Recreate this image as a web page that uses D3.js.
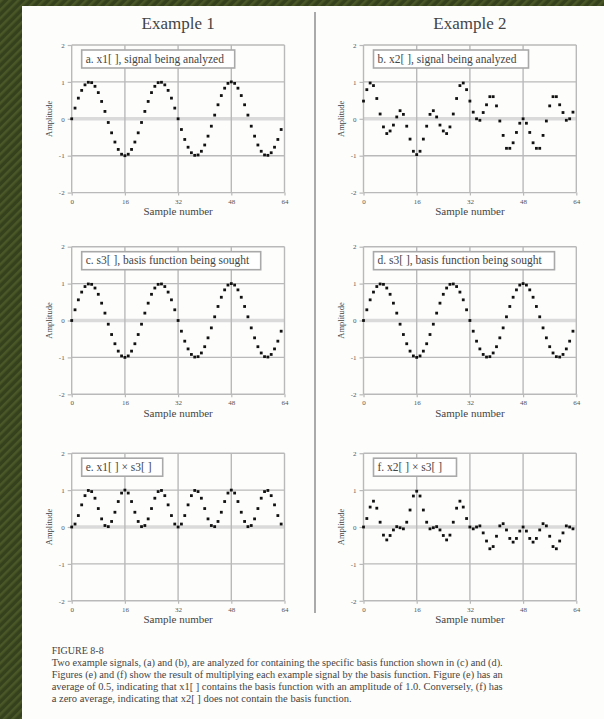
<!DOCTYPE html>
<html>
<head>
<meta charset="utf-8">
<script src="https://cdn.jsdelivr.net/npm/d3@7"></script>
<style>
  body { margin: 0; background: #fff; }
  svg { display: block; }
</style>
</head>
<body>
<div id="chart"></div>
<script>
// sample values, n = 0..63
const x1 = [0, 0.29, 0.56, 0.77, 0.92, 0.99, 0.98, 0.88, 0.71, 0.47, 0.2, -0.1, -0.38, -0.63, -0.83, -0.96,
  -1, -0.96, -0.83, -0.63, -0.38, -0.1, 0.2, 0.47, 0.71, 0.88, 0.98, 0.99, 0.92, 0.77, 0.56, 0.29,
  0, -0.29, -0.56, -0.77, -0.92, -0.99, -0.98, -0.88, -0.71, -0.47, -0.2, 0.1, 0.38, 0.63, 0.83, 0.96,
  1, 0.96, 0.83, 0.63, 0.38, 0.1, -0.2, -0.47, -0.71, -0.88, -0.98, -0.99, -0.92, -0.77, -0.56, -0.29];

const x2 = [0.48, 0.79, 0.97, 0.9, 0.55, 0.13, -0.22, -0.4, -0.33, -0.17, 0.05, 0.22, 0.12, -0.2, -0.55, -0.88,
  -0.97, -0.88, -0.55, -0.2, 0.12, 0.22, 0.05, -0.17, -0.33, -0.4, -0.22, 0.13, 0.55, 0.9, 0.97, 0.79,
  0.48, 0.18, 0, -0.04, 0.17, 0.38, 0.6, 0.6, 0.35, -0.06, -0.45, -0.8, -0.8, -0.65, -0.37, -0.12,
  0, -0.12, -0.37, -0.65, -0.8, -0.8, -0.45, -0.06, 0.35, 0.6, 0.6, 0.38, 0.17, -0.04, 0, 0.18];

const s3 = [0, 0.29, 0.56, 0.77, 0.92, 0.99, 0.98, 0.88, 0.71, 0.47, 0.2, -0.1, -0.38, -0.63, -0.83, -0.96,
  -1, -0.96, -0.83, -0.63, -0.38, -0.1, 0.2, 0.47, 0.71, 0.88, 0.98, 0.99, 0.92, 0.77, 0.56, 0.29,
  0, -0.29, -0.56, -0.77, -0.92, -0.99, -0.98, -0.88, -0.71, -0.47, -0.2, 0.1, 0.38, 0.63, 0.83, 0.96,
  1, 0.96, 0.83, 0.63, 0.38, 0.1, -0.2, -0.47, -0.71, -0.88, -0.98, -0.99, -0.92, -0.77, -0.56, -0.29];

// x1[ ] × s3[ ]
const e = [0, 0.08, 0.31, 0.6, 0.85, 0.99, 0.96, 0.78, 0.5, 0.22, 0.04, 0.01, 0.15, 0.4, 0.69, 0.92,
  1, 0.92, 0.69, 0.4, 0.15, 0.01, 0.04, 0.22, 0.5, 0.78, 0.96, 0.99, 0.85, 0.6, 0.31, 0.08,
  0, 0.08, 0.31, 0.6, 0.85, 0.99, 0.96, 0.78, 0.5, 0.22, 0.04, 0.01, 0.15, 0.4, 0.69, 0.92,
  1, 0.92, 0.69, 0.4, 0.15, 0.01, 0.04, 0.22, 0.5, 0.78, 0.96, 0.99, 0.85, 0.6, 0.31, 0.08];

// x2[ ] × s3[ ]
const f = [0, 0.23, 0.54, 0.7, 0.51, 0.13, -0.22, -0.35, -0.23, -0.08, 0.01, -0.02, -0.05, 0.13, 0.46, 0.84,
  0.97, 0.84, 0.46, 0.13, -0.05, -0.02, 0.01, -0.08, -0.23, -0.35, -0.22, 0.13, 0.51, 0.7, 0.54, 0.23,
  0, -0.05, 0, 0.03, -0.16, -0.38, -0.59, -0.53, -0.25, 0.03, 0.09, -0.08, -0.31, -0.41, -0.31, -0.11,
  0, -0.11, -0.31, -0.41, -0.31, -0.08, 0.09, 0.03, -0.25, -0.53, -0.59, -0.38, -0.16, 0.03, 0, -0.05];

const xTicks = [0, 16, 32, 48, 64];
const yTicks = [-2, -1, 0, 1, 2];
const titles = ["Example 1", "Example 2"];
const labels = ["a. x1[ ], signal being analyzed", "b. x2[ ], signal being analyzed",
  "c. s3[ ], basis function being sought", "d. s3[ ], basis function being sought",
  "e. x1[ ] \u00d7 s3[ ]", "f. x2[ ] \u00d7 s3[ ]"];
const series = [x1, x2, s3, s3, e, f];
const captionTitle = "FIGURE 8-8";
const caption = [
  "Two example signals, (a) and (b), are analyzed for containing the specific basis function shown in (c) and (d).",
  "Figures (e) and (f) show the result of multiplying each example signal by the basis function.  Figure (e) has an",
  "average of 0.5, indicating that x1[ ] contains the basis function with an amplitude of 1.0.  Conversely, (f) has",
  "a zero average, indicating that x2[ ] does not contain the basis function."
];

const W = 604, H = 719;
const colLeft = [71.7, 363.5], plotW = 212.8;
const rowTop = [45, 246.7, 453.2], plotH = 147.6;
const legendW = [153, 155, 179, 181, 81, 83];
const GRID = "#b9b9b9";
const SERIF = "'Liberation Serif', 'DejaVu Serif', serif";

const svg = d3.select("#chart").append("svg").attr("width", W).attr("height", H);

// dark green striped border
const pat = svg.append("defs").append("pattern")
  .attr("id", "stripes").attr("width", 6).attr("height", 6)
  .attr("patternUnits", "userSpaceOnUse").attr("patternTransform", "rotate(45)");
pat.append("rect").attr("width", 6).attr("height", 6).attr("fill", "#35411c");
pat.append("rect").attr("width", 2.5).attr("height", 6).attr("fill", "#4a5727");
svg.append("rect").attr("width", W).attr("height", H).attr("fill", "url(#stripes)");
svg.append("rect").attr("x", 22).attr("y", 6).attr("width", W - 22).attr("height", H - 6).attr("fill", "#fdfdfc");

// column divider
svg.append("line").attr("x1", 315).attr("x2", 315).attr("y1", 12).attr("y2", 613)
  .attr("stroke", "#aaa").attr("stroke-width", 2);

titles.forEach((t, i) => {
  svg.append("text").text(t)
    .attr("x", colLeft[i] + plotW / 2).attr("y", 29)
    .attr("text-anchor", "middle").attr("font-family", SERIF).attr("font-size", 17)
    .attr("fill", "#444");
});

series.forEach((data, i) => {
  const col = i % 2, row = Math.floor(i / 2);
  const left = colLeft[col], top = rowTop[row];
  const x = d3.scaleLinear().domain([0, 64]).range([left, left + plotW]);
  const y = d3.scaleLinear().domain([-2, 2]).range([top + plotH, top]);
  const g = svg.append("g");

  // zero line is a lighter, wider band
  g.append("line").attr("x1", x(0)).attr("x2", x(64)).attr("y1", y(0)).attr("y2", y(0))
    .attr("stroke", "#dadada").attr("stroke-width", 3.5);

  g.selectAll("line.h").data(yTicks.filter(d => d !== 0)).join("line")
    .attr("x1", x(0)).attr("x2", x(64)).attr("y1", d => y(d)).attr("y2", d => y(d))
    .attr("stroke", GRID).attr("stroke-width", 1.4);
  g.selectAll("line.v").data(xTicks).join("line")
    .attr("x1", d => x(d)).attr("x2", d => x(d)).attr("y1", y(-2)).attr("y2", y(2))
    .attr("stroke", GRID).attr("stroke-width", 1.4);

  const yAxis = g.append("g").attr("transform", `translate(${left},0)`)
    .call(d3.axisLeft(y).tickValues(yTicks).tickSize(4).tickPadding(3).tickFormat(d => String(d)));
  const xAxis = g.append("g").attr("transform", `translate(0,${top + plotH})`)
    .call(d3.axisBottom(x).tickValues(xTicks).tickSize(3).tickPadding(3).tickFormat(d => String(d)));
  [yAxis, xAxis].forEach(a => {
    a.select(".domain").remove();
    a.selectAll("line").attr("stroke", GRID).attr("stroke-width", 1.2);
    a.selectAll("text").attr("font-family", SERIF).attr("font-size", 7).attr("fill", "#555");
  });

  g.append("text").text("Sample number")
    .attr("x", left + plotW / 2).attr("y", top + plotH + 22.5)
    .attr("text-anchor", "middle").attr("font-family", SERIF).attr("font-size", 11).attr("fill", "#444");
  g.append("text").text("Amplitude")
    .attr("transform", `translate(${left - 19.5},${top + plotH / 2}) rotate(-90)`)
    .attr("text-anchor", "middle").attr("font-family", SERIF).attr("font-size", 8.5).attr("fill", "#444");

  g.append("rect").attr("x", left + 10).attr("y", top + 5)
    .attr("width", legendW[i]).attr("height", 18)
    .attr("fill", "#fff").attr("stroke", "#a9a9a9").attr("stroke-width", 1.6);
  g.append("text").text(labels[i])
    .attr("x", left + 14).attr("y", top + 17.5)
    .attr("font-family", SERIF).attr("font-size", 11.5).attr("fill", "#444");

  g.selectAll("rect.pt").data(data).join("rect")
    .attr("class", "pt")
    .attr("x", (d, n) => x(n) - 1.4).attr("y", d => y(d) - 1.4)
    .attr("width", 2.8).attr("height", 2.8)
    .attr("fill", "#111");
});

svg.append("text").text(captionTitle)
  .attr("x", 51.7).attr("y", 653.5)
  .attr("font-family", SERIF).attr("font-size", 10).attr("fill", "#444");
caption.forEach((line, i) => {
  svg.append("text").text(line)
    .attr("x", 51.7).attr("y", 666 + i * 12)
    .attr("textLength", i < 3 ? 451 : 300).attr("lengthAdjust", "spacingAndGlyphs")
    .attr("font-family", SERIF).attr("font-size", 10).attr("fill", "#444");
});
</script>
</body>
</html>
